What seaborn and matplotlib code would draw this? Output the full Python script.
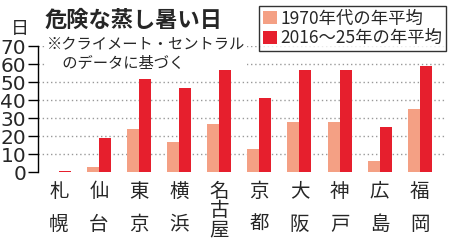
import matplotlib
matplotlib.use("Agg")
import matplotlib.pyplot as plt
import seaborn as sns
import pandas as pd

# data
cities = ["札\n幌", "仙\n台", "東\n京", "横\n浜", "名\n古\n屋",
          "京\n都", "大\n阪", "神\n戸", "広\n島", "福\n岡"]
avg_1970s = [0, 3, 24, 17, 27, 13, 28, 28, 6, 35]
avg_recent = [0.6, 19, 52, 47, 57, 41, 57, 57, 25, 59]
series = ["1970年代の年平均", "2016～25年の年平均"]
yticks = [0, 10, 20, 30, 40, 50, 60, 70]

if __name__ == "__main__":
    sns.set_style("white")
    plt.rcParams['font.family'] = ['Noto Sans CJK JP', 'DejaVu Sans']

    df = pd.DataFrame({
        "city": cities * 2,
        "days": avg_1970s + avg_recent,
        "series": [series[0]] * len(cities) + [series[1]] * len(cities),
    })

    fig = plt.figure(figsize=(4.5, 2.42), dpi=100)
    ax = fig.add_axes([0.0844, 0.288, 0.9046, 0.521])

    sns.barplot(data=df, x="city", y="days", hue="series",
                palette=["#F4A084", "#E61F2D"], width=0.6, gap=0,
                linewidth=0, saturation=1, ax=ax)

    ax.set_xlim(-0.52, 9.63)
    ax.set_ylim(0, 70)
    ax.set_yticks(yticks)
    ax.set_xlabel("")
    ax.set_ylabel("")
    for y in yticks[1:]:
        ax.axhline(y, color="#999999", linestyle=(0, (1, 2)), linewidth=1.0, zorder=0)

    for s in ["top", "right", "bottom"]:
        ax.spines[s].set_visible(False)
    ax.spines["left"].set_color("black")
    ax.spines["left"].set_linewidth(1.0)
    ax.tick_params(axis="y", direction="out", length=7, width=1.0, pad=1.5,
                   left=True, color="black")
    for lab in ax.get_yticklabels():
        lab.set_family(['Liberation Sans Narrow', 'DejaVu Sans'])
        lab.set_fontsize(14.5)
    ax.tick_params(axis="x", length=0, labelsize=14, pad=6)
    for lab in ax.get_xticklabels():
        if lab.get_text().count("\n") == 2:
            lab.set_linespacing(0.9)
        else:
            lab.set_linespacing(1.75)

    handles, labels = ax.get_legend_handles_labels()
    ax.legend([], [], frameon=False)
    leg = fig.legend(handles, labels, loc="upper right", bbox_to_anchor=(0.99, 0.975),
                     fontsize=12.5, frameon=True, fancybox=False, edgecolor="black",
                     handlelength=0.8, handleheight=0.8, handletextpad=0.2,
                     borderpad=0.2, labelspacing=0.1, borderaxespad=0)
    leg.get_frame().set_linewidth(1.0)

    fig.text(0.1, 0.915, "危険な蒸し暑い日", fontsize=16, fontweight="bold", va="center")
    fig.text(0.045, 0.88, "日", fontsize=13, ha="center", va="center")
    # note sits above the gridlines but below the bars
    ax.text(0.105, 0.775, "※クライメート・セントラル\n　のデータに基づく", fontsize=11,
            va="center", linespacing=1.15, transform=fig.transFigure,
            zorder=0.5, clip_on=False,
            bbox=dict(facecolor="white", edgecolor="none", pad=1))

    fig.savefig("out.png", dpi=100)
